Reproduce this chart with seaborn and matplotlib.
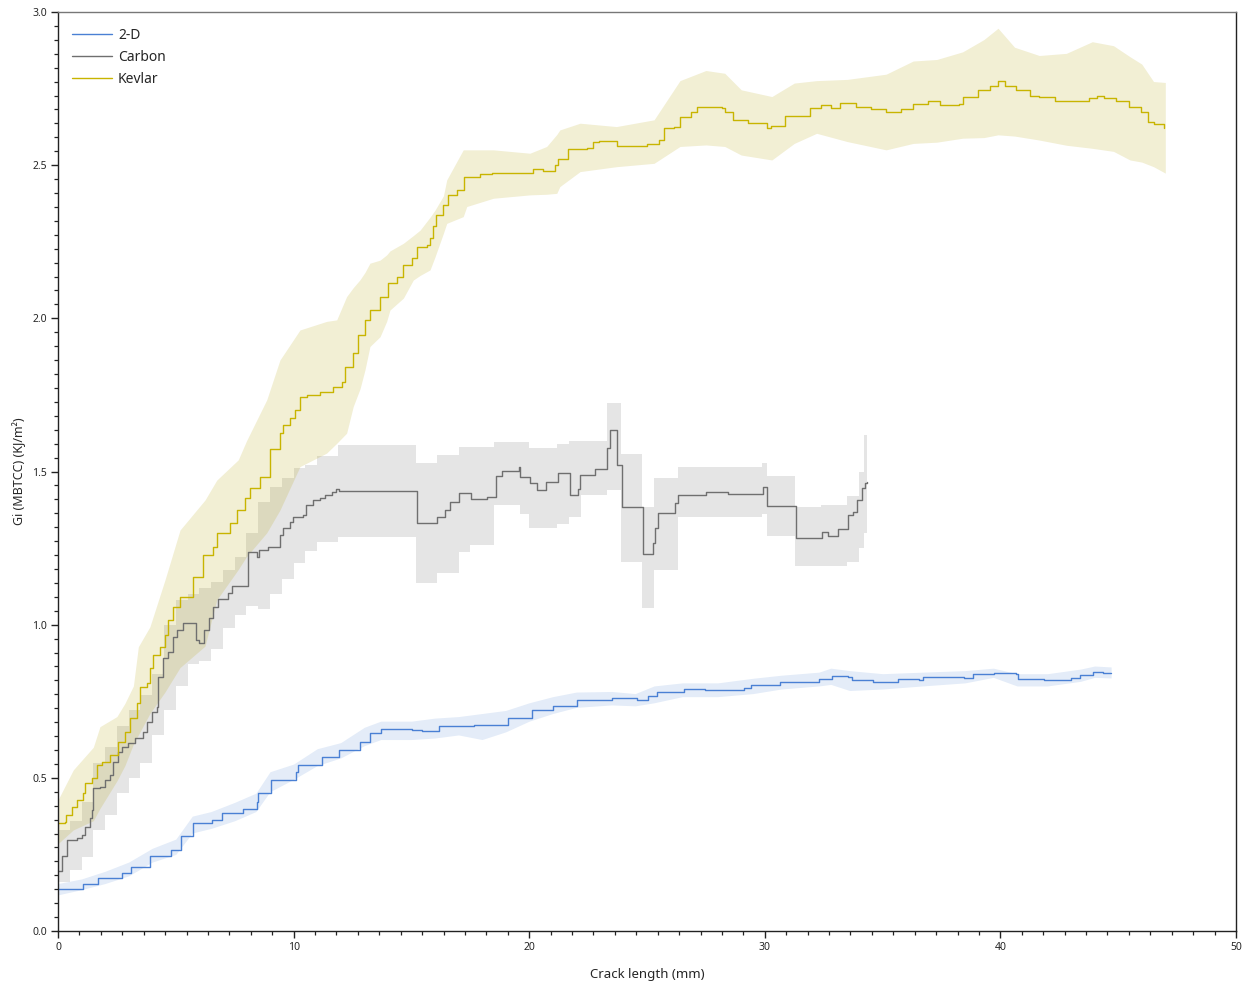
import matplotlib
matplotlib.use("Agg")
import matplotlib.pyplot as plt
from matplotlib.ticker import MultipleLocator, AutoMinorLocator, FormatStrFormatter
from matplotlib.lines import Line2D
import numpy as np
import pandas as pd
import seaborn as sns

# ---------------- data ----------------
series_names = ["2-D", "Carbon", "Kevlar"]

# 2-D (blue) mean curve
twod_x = [0, 0.54, 1.05, 1.71, 2.73, 3.09, 3.9, 4.78, 5.22, 5.73, 6.53, 6.97, 7.84, 8.43, 8.5, 9.02,
          10.11, 10.18, 11.21, 11.94, 12.81, 13.25, 13.69, 15.01, 15.45, 16.18, 17.64, 19.1, 20.12,
          21.0, 22.02, 23.52, 24.58, 25.04, 25.42, 26.55, 27.46, 29.13, 29.43, 30.65, 32.31, 32.84,
          33.53, 33.68, 34.59, 35.65, 36.56, 36.71, 38.45, 38.83, 39.74, 40.65, 40.73, 41.86, 43.0,
          43.38, 43.91, 44.36, 44.69]
twod_y = [0.136, 0.136, 0.152, 0.172, 0.188, 0.208, 0.245, 0.264, 0.31, 0.352, 0.362, 0.386, 0.397,
          0.422, 0.45, 0.493, 0.52, 0.542, 0.569, 0.591, 0.618, 0.645, 0.658, 0.656, 0.654, 0.669,
          0.673, 0.694, 0.722, 0.735, 0.754, 0.76, 0.754, 0.767, 0.781, 0.789, 0.787, 0.792, 0.803,
          0.814, 0.822, 0.833, 0.828, 0.819, 0.814, 0.822, 0.819, 0.828, 0.825, 0.839, 0.843, 0.838,
          0.822, 0.819, 0.825, 0.836, 0.846, 0.841, 0.841]
# 2-D band
twod_band_x = [0, 1, 2, 3, 4, 5, 5.7, 6.5, 7.5, 8.4, 9, 10, 11, 12, 13, 13.7, 15, 16, 17, 18, 19, 20,
               21, 22, 23.5, 24.5, 25.3, 26.5, 28, 29.5, 30.7, 32.3, 32.8, 33.6, 35, 36.7, 38.5,
               39.7, 40.7, 42, 43.4, 44.0, 44.7]
twod_lo = [0.118, 0.135, 0.155, 0.18, 0.225, 0.25, 0.32, 0.335, 0.36, 0.39, 0.455, 0.495, 0.54,
           0.565, 0.605, 0.625, 0.625, 0.63, 0.64, 0.625, 0.65, 0.685, 0.71, 0.73, 0.738, 0.735,
           0.745, 0.765, 0.765, 0.775, 0.79, 0.80, 0.805, 0.785, 0.79, 0.80, 0.81, 0.828, 0.80,
           0.80, 0.815, 0.828, 0.826]
twod_hi = [0.155, 0.17, 0.195, 0.225, 0.27, 0.30, 0.375, 0.39, 0.42, 0.45, 0.52, 0.545, 0.595,
           0.615, 0.665, 0.685, 0.685, 0.695, 0.70, 0.71, 0.72, 0.745, 0.765, 0.78, 0.782, 0.775,
           0.80, 0.81, 0.81, 0.825, 0.835, 0.845, 0.858, 0.85, 0.84, 0.845, 0.85, 0.858, 0.84,
           0.84, 0.855, 0.865, 0.862]

# Carbon (grey) mean curve
carbon_x = [0.0, 0.16, 0.40, 0.79, 1.0, 1.15, 1.36, 1.43, 1.5, 1.78, 2.0, 2.2, 2.35, 2.56, 2.7, 2.98,
            3.27, 3.62, 3.76, 3.98, 4.19, 4.26, 4.47, 4.68, 4.9, 5.04, 5.32, 5.84, 6.0, 6.21, 6.42,
            6.59, 6.8, 7.23, 7.37, 8.05, 8.43, 8.53, 8.93, 9.42, 9.56, 9.85, 9.96, 10.41, 10.53,
            10.84, 11.12, 11.33, 11.62, 11.8, 11.94, 15.22, 16.1, 16.43, 16.64, 17.03, 17.52, 18.2,
            18.59, 18.83, 19.57, 19.61, 20.03, 20.32, 20.71, 21.24, 21.73, 22.08, 22.16, 22.79,
            23.31, 23.43, 23.71, 23.93, 24.82, 25.24, 25.34, 25.48, 26.19, 26.3, 27.5, 28.43,
            29.91, 30.11, 31.31, 32.41, 32.7, 33.09, 33.55, 33.76, 33.9, 34.11, 34.25, 34.32]
carbon_y = [0.195, 0.245, 0.297, 0.303, 0.313, 0.34, 0.368, 0.395, 0.466, 0.471, 0.493, 0.509, 0.553,
            0.585, 0.602, 0.613, 0.629, 0.651, 0.683, 0.716, 0.732, 0.83, 0.89, 0.912, 0.961, 0.983,
            1.005, 0.95, 0.939, 0.983, 1.021, 1.059, 1.084, 1.102, 1.127, 1.236, 1.22, 1.244, 1.255,
            1.293, 1.315, 1.336, 1.353, 1.358, 1.391, 1.407, 1.415, 1.423, 1.434, 1.443, 1.436,
            1.331, 1.35, 1.374, 1.402, 1.431, 1.409, 1.418, 1.485, 1.503, 1.516, 1.483, 1.464, 1.44,
            1.467, 1.496, 1.423, 1.442, 1.49, 1.507, 1.576, 1.636, 1.521, 1.383, 1.231, 1.266,
            1.315, 1.366, 1.396, 1.423, 1.434, 1.427, 1.449, 1.388, 1.282, 1.304, 1.29, 1.311,
            1.358, 1.369, 1.407, 1.445, 1.462, 1.465]
# Carbon band
carbon_band_x = [0, 0.5, 1.0, 1.5, 2.0, 2.5, 3.0, 3.5, 4.0, 4.5, 5.0, 5.5, 6.0, 6.5, 7.0, 7.5, 8.0,
                 8.5, 9.0, 9.5, 10.0, 10.5, 11.0, 11.9, 15.2, 16.1, 17.0, 17.5, 18.5, 19.6, 20.0,
                 21.2, 21.7, 22.2, 23.3, 23.9, 24.8, 25.3, 26.3, 28.5, 29.9, 30.1, 31.3, 32.4,
                 33.5, 34.0, 34.2, 34.32]
carbon_lo = [0.16, 0.2, 0.24, 0.33, 0.38, 0.45, 0.5, 0.55, 0.64, 0.72, 0.80, 0.87, 0.88, 0.92, 0.99,
             1.03, 1.06, 1.05, 1.1, 1.15, 1.2, 1.24, 1.27, 1.287, 1.137, 1.169, 1.238, 1.26, 1.39,
             1.36, 1.316, 1.33, 1.35, 1.423, 1.44, 1.206, 1.054, 1.179, 1.353, 1.35, 1.36, 1.29,
             1.19, 1.19, 1.206, 1.25, 1.30, 1.30]
carbon_hi = [0.33, 0.36, 0.42, 0.55, 0.6, 0.67, 0.72, 0.77, 0.84, 1.0, 1.08, 1.1, 1.12, 1.14, 1.18,
             1.22, 1.3, 1.4, 1.45, 1.48, 1.51, 1.52, 1.55, 1.587, 1.527, 1.554, 1.58, 1.58, 1.597,
             1.597, 1.577, 1.59, 1.6, 1.60, 1.722, 1.557, 1.385, 1.478, 1.516, 1.516, 1.529, 1.486,
             1.385, 1.39, 1.42, 1.5, 1.62, 1.62]

# Kevlar (yellow) mean curve
kevlar_x = [0.0, 0.3, 0.34, 0.58, 0.79, 1.07, 1.15, 1.43, 1.64, 1.85, 2.2, 2.56, 2.84, 3.06, 3.34,
            3.48, 3.76, 3.9, 4.05, 4.33, 4.54, 4.68, 4.9, 5.18, 5.74, 6.17, 6.59, 6.74, 7.3, 7.58,
            7.94, 8.15, 8.57, 9.0, 9.42, 9.56, 9.85, 10.06, 10.27, 10.56, 11.12, 11.68, 12.04,
            12.18, 12.53, 12.75, 13.03, 13.24, 13.67, 14.02, 14.38, 14.66, 15.01, 15.22, 15.65,
            15.79, 15.93, 16.04, 16.36, 16.57, 16.92, 17.23, 17.91, 18.41, 19.47, 20.17, 20.6,
            21.1, 21.24, 21.66, 22.44, 22.72, 22.97, 23.73, 24.27, 25.0, 25.49, 25.73, 26.14,
            26.38, 26.87, 27.11, 27.52, 28.17, 28.3, 28.65, 29.3, 30.11, 30.28, 30.84, 31.25,
            31.9, 32.39, 32.8, 33.2, 33.85, 34.5, 35.15, 35.8, 36.29, 36.94, 37.42, 38.24, 38.4,
            39.05, 39.54, 39.9, 40.19, 40.68, 41.24, 41.65, 42.3, 43.11, 43.76, 44.12, 44.41,
            44.9, 45.47, 45.96, 46.28, 46.52, 46.93]
kevlar_y = [0.354, 0.357, 0.379, 0.406, 0.428, 0.45, 0.482, 0.499, 0.542, 0.553, 0.575, 0.618, 0.651,
            0.694, 0.743, 0.798, 0.809, 0.858, 0.901, 0.928, 0.966, 1.015, 1.059, 1.091, 1.157,
            1.228, 1.255, 1.298, 1.331, 1.374, 1.413, 1.445, 1.483, 1.575, 1.625, 1.652, 1.674,
            1.701, 1.744, 1.75, 1.758, 1.777, 1.793, 1.842, 1.886, 1.946, 1.995, 2.027, 2.071,
            2.115, 2.136, 2.174, 2.196, 2.234, 2.24, 2.261, 2.30, 2.338, 2.37, 2.403, 2.419, 2.463,
            2.471, 2.474, 2.476, 2.487, 2.482, 2.501, 2.519, 2.552, 2.557, 2.577, 2.58, 2.561,
            2.563, 2.569, 2.582, 2.621, 2.626, 2.657, 2.672, 2.689, 2.689, 2.686, 2.675, 2.648,
            2.637, 2.621, 2.628, 2.659, 2.659, 2.686, 2.697, 2.686, 2.703, 2.689, 2.683, 2.675,
            2.683, 2.70, 2.708, 2.697, 2.70, 2.724, 2.744, 2.757, 2.776, 2.757, 2.744, 2.726,
            2.722, 2.711, 2.711, 2.719, 2.726, 2.719, 2.708, 2.689, 2.675, 2.642, 2.635, 2.621]
# Kevlar band
kevlar_band_x = [0, 0.65, 1.5, 1.78, 2.5, 2.84, 3.2, 3.41, 3.9, 4.54, 5.18, 6.24, 6.74, 7.65, 8.0,
                 8.86, 9.42, 10.27, 11.4, 11.83, 12.25, 12.53, 12.82, 13.03, 13.24, 13.67, 13.95,
                 14.09, 14.66, 15.08, 15.37, 15.79, 16.0, 16.36, 16.5, 17.2, 17.35, 18.48, 20.03,
                 20.74, 21.17, 21.3, 22.16, 23.7, 25.3, 26.4, 27.5, 28.3, 29.0, 30.3, 31.25, 32.2,
                 33.5, 35.15, 36.3, 37.3, 38.4, 39.3, 39.9, 40.6, 41.65, 42.8, 43.9, 44.8, 45.5,
                 46.0, 46.5, 47.0]
kevlar_lo = [0.285, 0.33, 0.36, 0.40, 0.49, 0.54, 0.61, 0.64, 0.71, 0.78, 0.86, 0.93, 1.081, 1.18,
             1.222, 1.30, 1.374, 1.516, 1.56, 1.592, 1.625, 1.712, 1.77, 1.832, 1.908, 1.94, 1.99,
             2.027, 2.066, 2.125, 2.14, 2.158, 2.20, 2.278, 2.31, 2.332, 2.365, 2.392, 2.403,
             2.405, 2.408, 2.43, 2.479, 2.495, 2.506, 2.561, 2.566, 2.561, 2.533, 2.517, 2.571,
             2.604, 2.577, 2.55, 2.571, 2.575, 2.588, 2.59, 2.599, 2.595, 2.582, 2.565, 2.555,
             2.545, 2.517, 2.51, 2.495, 2.474]
kevlar_hi = [0.428, 0.526, 0.60, 0.667, 0.70, 0.743, 0.80, 0.928, 0.993, 1.146, 1.309, 1.407, 1.472,
             1.538, 1.60, 1.734, 1.864, 1.962, 1.99, 1.995, 2.071, 2.10, 2.126, 2.15, 2.18, 2.19,
             2.207, 2.22, 2.245, 2.27, 2.288, 2.33, 2.353, 2.40, 2.452, 2.55, 2.55, 2.55, 2.539,
             2.561, 2.60, 2.615, 2.637, 2.626, 2.648, 2.776, 2.809, 2.80, 2.746, 2.724, 2.768,
             2.776, 2.78, 2.797, 2.84, 2.845, 2.87, 2.91, 2.947, 2.885, 2.858, 2.865, 2.903,
             2.89, 2.854, 2.83, 2.773, 2.77]

x_ticks = [0, 10, 20, 30, 40, 50]
y_ticks = [0.0, 0.5, 1.0, 1.5, 2.0, 2.5, 3.0]
x_label = "Crack length (mm)"
y_label = "Gi (MBTCC) (KJ/m²)"

# ---------------- style ----------------
sns.set_style("white")
plt.rcParams["font.family"] = ["Noto Sans", "DejaVu Sans"]

line_colors = {"2-D": "#4a80d4", "Carbon": "#6f6f6f", "Kevlar": "#c8b400"}
band_colors = {"2-D": ("#4a80d4", 0.15), "Carbon": ("#808080", 0.20), "Kevlar": ("#b3a100", 0.17)}

fig = plt.figure(figsize=(12.47, 9.89), dpi=100)
ax = fig.add_axes([58 / 1247, 58 / 989, (1236 - 58) / 1247, (931 - 12) / 989])

# bands
ax.fill_between(twod_band_x, twod_lo, twod_hi, color=band_colors["2-D"][0],
                alpha=band_colors["2-D"][1], linewidth=0)
ax.fill_between(carbon_band_x, carbon_lo, carbon_hi, step="post", color=band_colors["Carbon"][0],
                alpha=band_colors["Carbon"][1], linewidth=0)
ax.fill_between(kevlar_band_x, kevlar_lo, kevlar_hi, color=band_colors["Kevlar"][0],
                alpha=band_colors["Kevlar"][1], linewidth=0)

# mean lines
df = pd.concat([
    pd.DataFrame({"x": twod_x, "y": twod_y, "series": "2-D"}),
    pd.DataFrame({"x": carbon_x, "y": carbon_y, "series": "Carbon"}),
    pd.DataFrame({"x": kevlar_x, "y": kevlar_y, "series": "Kevlar"}),
], ignore_index=True)

sns.lineplot(data=df, x="x", y="y", hue="series", hue_order=series_names, palette=line_colors,
             estimator=None, sort=False, errorbar=None, linewidth=1.0, drawstyle="steps-post",
             ax=ax, legend=False)

# axes
ax.set_xlim(0, 50)
ax.set_ylim(0, 3.0)
ax.xaxis.set_major_locator(MultipleLocator(10))
ax.yaxis.set_major_locator(MultipleLocator(0.5))
ax.xaxis.set_minor_locator(AutoMinorLocator(11))
ax.yaxis.set_minor_locator(AutoMinorLocator(11))
ax.yaxis.set_major_formatter(FormatStrFormatter("%.1f"))
ax.set_xticks(x_ticks)
ax.set_yticks(y_ticks)

ax.tick_params(axis="both", which="major", direction="out", length=5, width=1, color="#222222",
               labelsize=7.5, pad=3, bottom=True, left=True, top=False, right=False)
ax.tick_params(axis="both", which="minor", direction="out", length=3, width=0.9, color="#222222",
               bottom=True, left=True, top=False, right=False)

for side in ["left", "bottom", "right"]:
    ax.spines[side].set_color("#222222")
    ax.spines[side].set_linewidth(1.0)
ax.spines["top"].set_color("#777777")
ax.spines["top"].set_linewidth(1.0)

ax.set_xlabel(x_label, fontsize=9.5, labelpad=11)
ax.set_ylabel(y_label, fontsize=9, labelpad=4)

handles = [Line2D([0], [0], color=line_colors[n], linewidth=1.0) for n in series_names]
ax.legend(handles, series_names, loc="upper left", bbox_to_anchor=(0.012, 0.983), frameon=False,
          fontsize=10, handlelength=2.9, handletextpad=0.4, labelspacing=0.5, borderpad=0,
          borderaxespad=0)

fig.savefig("out.png", dpi=100, facecolor="white")
